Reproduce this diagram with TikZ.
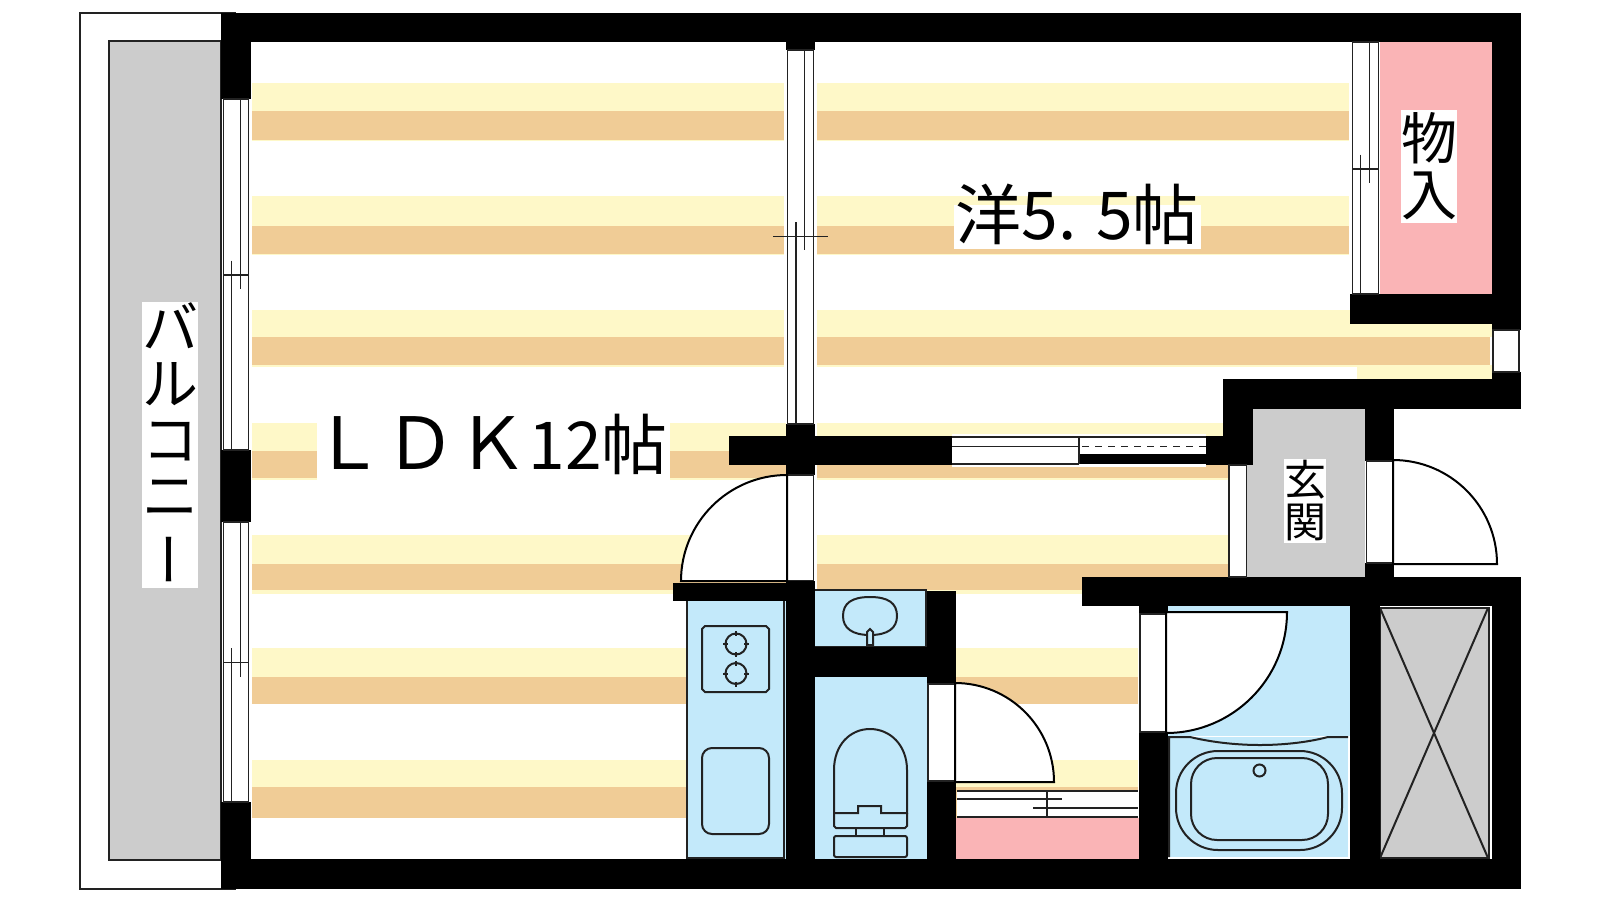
\documentclass[tikz,border=0pt]{standalone}
\usepackage{fontspec}
\newfontfamily\cjk{Noto Sans CJK JP}
\usetikzlibrary{positioning}
\definecolor{bandlight}{HTML}{FEF8C8}
\definecolor{banddark}{HTML}{F0CC96}
\definecolor{wetblue}{HTML}{C3E9FA}
\definecolor{floorgray}{HTML}{CCCCCC}
\definecolor{closetpink}{HTML}{FAB4B6}
\definecolor{inkline}{HTML}{222222}
\begin{document}
\begin{tikzpicture}[
    x=.5pt, y=-.5pt,
    wall/.style={fill=black},
    ink/.style={draw=inkline, line width=1pt},
    thinink/.style={draw=inkline, line width=.9pt},
    sash/.style={fill=white, draw=inkline, line width=.9pt},
    door/.style={fill=white, draw=black, line width=1pt, line join=miter},
    fixture/.style={draw=inkline, line width=1pt},
    bigtext/.style={font=\cjk\fontsize{33}{33}\selectfont, inner sep=0pt, anchor=base west},
    tagtext/.style={fill=white, inner sep=0pt, align=center}
]
\useasboundingbox (0,0) rectangle (1600,900);

% floor bands
\foreach \xa/\xb/\ya/\ym/\yb/\yp in {
    252/784/83/111/140/141, 817/1349/83/111/140/141,
    252/784/196/226/254/255, 817/1349/196/226/254/255,
    252/784/310/337/365/367, 817/1490/310/337/365/367,
    252/317/423/451/478/480, 670/786/423/451/478/480, 817/1228/423/451/478/480,
    252/786/535/564/590/594, 817/1228/535/564/590/594,
    252/686/648/677/704/704, 956/1138/648/677/704/704,
    252/686/760/787/818/818, 956/1138/760/787/818/818} {
    \fill[bandlight] (\xa,\ya) rectangle (\xb,\yp);
    \fill[banddark] (\xa,\ym) rectangle (\xb,\yb);
}
\fill[bandlight] (1357,365) rectangle (1492,379);
\fill[bandlight] (1349,324) rectangle (1492,337);

% balcony
\draw[ink] (236,13) -- (80,13) -- (80,889) -- (236,889);
\filldraw[fill=floorgray, ink] (109,41) rectangle (221,860);

% rooms
\fill[floorgray] (1247,465) rectangle (1365,577);
\fill[floorgray] (1253,409) rectangle (1365,465);
\fill[closetpink] (1380,42) rectangle (1492,295);
\fill[closetpink] (956,818) rectangle (1139,859);
\fill[wetblue] (686,601) rectangle (786,859);
\fill[wetblue] (815,589) rectangle (927,647);
\fill[wetblue] (815,677) rectangle (927,859);
\fill[wetblue] (1168,606) rectangle (1350,736);
\fill[wetblue] (1170,737) rectangle (1348,857);
\draw[ink] (687,601) -- (687,858) -- (784,858) -- (784,601);
\draw[ink] (815,589.5) -- (926,589.5) -- (926,647) -- (815,647);
\filldraw[fill=floorgray, thinink] (1380,608) rectangle (1489,858);
\draw[white, line width=.6pt] (1491,606) -- (1491,858);
\draw[ink] (1380,608) -- (1488,858) (1488,608) -- (1380,858);

% walls
\fill[wall] (221,13) rectangle (1521,42);
\fill[wall] (221,859) rectangle (1521,889);
\fill[wall] (221,13) rectangle (251,99);
\fill[wall] (221,450) rectangle (251,522);
\fill[wall] (221,802) rectangle (251,889);
\fill[wall] (1492,13) rectangle (1521,330);
\fill[wall] (1350,294) rectangle (1521,324);
\fill[wall] (1492,372) rectangle (1521,409);
\fill[wall] (1223,379) rectangle (1521,409);
\fill[wall] (1223,379) rectangle (1253,465);
\fill[wall] (1206,436) rectangle (1253,465);
\fill[wall] (1365,409) rectangle (1394,461);
\fill[wall] (1365,563) rectangle (1394,577);
\fill[wall] (1082,577) rectangle (1521,606);
\fill[wall] (1492,577) rectangle (1521,889);
\fill[wall] (1350,606) rectangle (1380,859);
\fill[wall] (1139,606) rectangle (1168,614);
\fill[wall] (1139,732) rectangle (1168,859);
\fill[wall] (786,42) rectangle (815,50);
\fill[wall] (786,424) rectangle (815,475);
\fill[wall] (729,436) rectangle (952,465);
\fill[wall] (673,583) rectangle (815,601);
\fill[wall] (786,581) rectangle (815,859);
\fill[wall] (815,647) rectangle (956,677);
\fill[wall] (927,591) rectangle (956,684);
\fill[wall] (927,781) rectangle (956,859);

% windows
\filldraw[sash] (223.5,99) rectangle (248.5,450);
\draw[thinink] (240.5,99) -- (240.5,288.5) (231.5,260.5) -- (231.5,450) (223.5,275) -- (248.5,275);
\filldraw[sash] (223.5,522) rectangle (248.5,802);
\draw[thinink] (240.5,522) -- (240.5,676.5) (231.5,648) -- (231.5,802) (223.5,662.5) -- (248.5,662.5);
\filldraw[sash] (787.5,50) rectangle (813.5,424);
\draw[thinink] (804.5,50) -- (804.5,250) (796,222) -- (796,424) (773,236.5) -- (828,236.5);
\filldraw[sash] (1352.5,42) rectangle (1378.5,294);
\draw[thinink] (1369.5,42) -- (1369.5,182.5) (1360.5,154.5) -- (1360.5,294) (1352.5,168.7) -- (1379,168.7);
\fill[white] (952,434) rectangle (1206,467);
\fill[black] (1079,454) rectangle (1206,464);
\draw[thinink] (952,437) -- (1206,437) (952,446.5) -- (1079,446.5) (952,464) -- (1079,464) (1079,437) -- (1079,464);
\draw[thinink, dash pattern=on 3.5pt off 3pt] (1082,446.5) -- (1206,446.5);
\filldraw[sash] (1493,330) rectangle (1519,372);
\fill[white] (957,790) rectangle (1138,817);
\draw[thinink] (957,790.7) -- (1138,790.7) (957,816.7) -- (1138,816.7) (957,798.7) -- (1062,798.7)
    (1033,807.7) -- (1138,807.7) (1047,790) -- (1047,817);

% door leaves
\filldraw[sash] (787.5,475) rectangle (813.5,580.5);
\filldraw[door] (787,581) -- (787,475) .. controls (728.5,475) and (681,522.5) .. (681,581) -- cycle;
\filldraw[sash] (928,684) rectangle (955,781);
\filldraw[door] (955,782) -- (955,683) .. controls (1009.7,683) and (1054,727.3) .. (1054,782) -- cycle;
\filldraw[sash] (1140,614) rectangle (1166,732);
\filldraw[door] (1166,612) -- (1287,612) .. controls (1287,678.8) and (1232.8,733) .. (1166,733) -- cycle;
\filldraw[sash] (1229,465) rectangle (1246.5,577);
\filldraw[sash] (1366.5,461) rectangle (1392.5,563);
\filldraw[door] (1393,564) -- (1393,460) .. controls (1450.4,460) and (1497,506.6) .. (1497,564) -- cycle;

% kitchen
\draw[fixture] (705,626) -- (766,626) -- (769,629) -- (769,689) -- (766,692) -- (705,692) -- (702,689) -- (702,629) -- cycle;
\foreach \by in {644,673.5} {
    \draw[fixture] (736,\by) circle (10.5);
    \draw[fixture] (723,\by) -- (728,\by) (744,\by) -- (749,\by) (736,\by-13) -- (736,\by-8) (736,\by+8) -- (736,\by+13);
}
\draw[fixture, rounded corners=5pt] (702,748) rectangle (769,834);

% basin and toilet
\draw[fixture] (870,597) .. controls (888,597) and (897,603) .. (897,616) .. controls (897,628) and (888,635) .. (870,635)
    .. controls (852,635) and (843,628) .. (843,616) .. controls (843,603) and (852,597) .. (870,597);
\filldraw[fixture, fill=wetblue] (867,645) -- (867,632) -- (870,629) -- (873,632) -- (873,645) -- cycle;
\draw[fixture] (834,813) -- (834,770) .. controls (834,745) and (850,729) .. (870,729) .. controls (890,729) and (907,745) .. (907,770)
    -- (907,813) -- (881,813) -- (881,806) -- (858,806) -- (858,813) -- cycle;
\draw[fixture] (834,813) -- (834,826) -- (836,828) -- (905,828) -- (907,826) -- (907,813);
\draw[fixture] (856,828) rectangle (884,836);
\draw[fixture, rounded corners=1pt] (834,836) rectangle (907,857);

% bath
\draw[fixture] (1169,857) -- (1169,737) -- (1190,737) .. controls (1215,743) and (1240,745) .. (1260,745)
    .. controls (1280,745) and (1305,743) .. (1328,737) -- (1348,737);
\draw[fixture, rounded corners=21pt] (1176,751) rectangle (1342,850);
\draw[fixture, rounded corners=13pt] (1191,758) rectangle (1328,840);
\draw[fixture] (1259.5,770.5) circle (6);

% labels
\node[bigtext] (ldk) at (312,469) {{\fontsize{36}{36}\selectfont ＬＤＫ}12帖};
\fill[white] (954,205) rectangle (1201,249);
\node[bigtext] (western) at (955,239) {洋5. 5帖};
\node[tagtext, font=\cjk\fontsize{28}{28}\selectfont, minimum width=28pt, minimum height=140pt] (balcony) at (170,445)
    {バ\\ル\\コ\\ニ\\\makebox[0pt]{\hspace{8pt}\rotatebox[origin=c]{90}{ー}}};
\node[tagtext, font=\cjk\fontsize{28}{28}\selectfont, minimum width=28pt, minimum height=56.5pt] (closet) at (1429,166.5)
    {物\\入};
\node[tagtext, font=\cjk\fontsize{21}{21}\selectfont, minimum width=21pt, minimum height=42pt] (entry) at (1305,501)
    {玄\\関};
\end{tikzpicture}
\end{document}
